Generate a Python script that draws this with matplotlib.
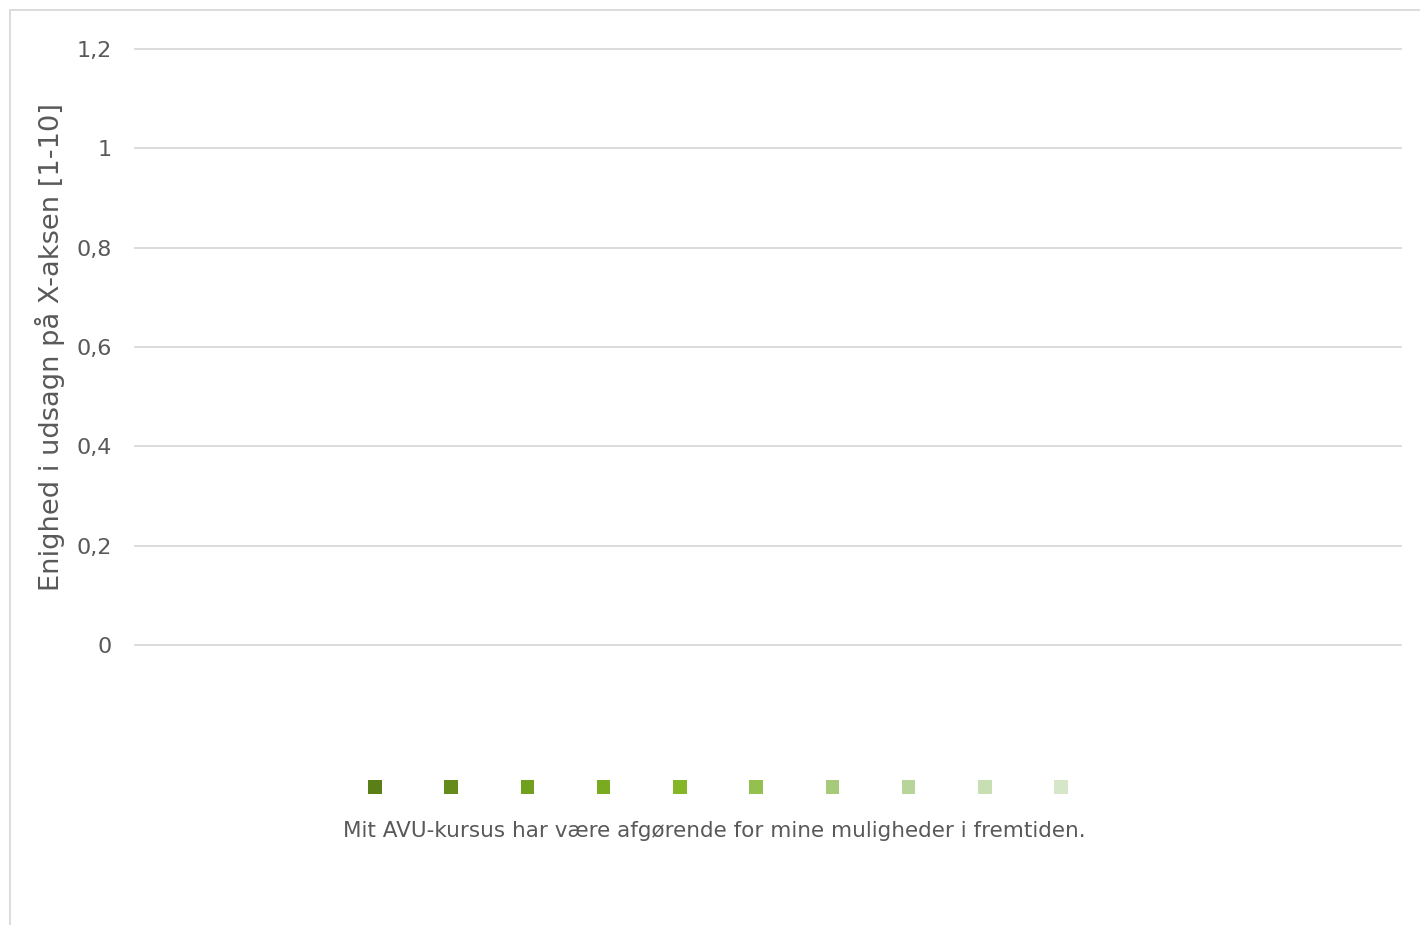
import matplotlib
matplotlib.use('Agg')
import matplotlib.pyplot as plt
from matplotlib.patches import Rectangle, Patch

# data: one statement, ten rating series (1-10), no values recorded
categories = ['Mit AVU-kursus har være afgørende for mine muligheder i fremtiden.']
series_names = ['', '', '', '', '', '', '', '', '', '']
series_values = [[0], [0], [0], [0], [0], [0], [0], [0], [0], [0]]
colors = ['#5a7f16', '#648b1b', '#71a01f', '#7aaa20', '#84b626',
          '#93c04e', '#a7ca7a', '#b7d59a', '#c7dfb3', '#d6e6c8']
yticks = [0, 0.2, 0.4, 0.6, 0.8, 1.0, 1.2]
ytick_labels = ['0', '0,2', '0,4', '0,6', '0,8', '1', '1,2']

txt = '#595959'
grid = '#d9d9d9'

fig = plt.figure(figsize=(14.2, 9.25), dpi=100)
fig.patches.append(Rectangle((9.5 / 1420, -0.1), 1.2, 1 - 9.5 / 925 + 0.1,
                             transform=fig.transFigure, fill=False,
                             edgecolor=grid, linewidth=1.3))

ax = fig.add_axes([135 / 1420, 1 - 645 / 925, (1401 - 135) / 1420, (645 - 49) / 925])

n = len(series_values)
w = 0.8 / n
handles = []
for i, vals in enumerate(series_values):
    xs = [j - 0.4 + w * (i + 0.5) for j in range(len(categories))]
    ax.bar(xs, vals, width=w, color=colors[i])
    handles.append(Patch(facecolor=colors[i], edgecolor='none'))

ax.set_xlim(-0.5, len(categories) - 0.5)
ax.set_ylim(0, 1.2)
ax.set_yticks(yticks)
ax.set_yticklabels(ytick_labels, fontsize=16, color=txt)
ax.yaxis.grid(True, color=grid, linewidth=1.3)
for gl in ax.get_ygridlines():
    gl.set_clip_on(False)
ax.set_axisbelow(True)
ax.tick_params(axis='y', length=0, pad=17)
ax.set_xticks([])
for s in ax.spines.values():
    s.set_visible(False)

ax.set_ylabel('Enighed i udsagn på X-aksen [1-10]', fontsize=19.6, color=txt, labelpad=8)

for j, c in enumerate(categories):
    fig.text(714 / 1420, 1 - 831 / 925, c, ha='center', va='center', fontsize=15.5, color=txt)

fig.legend(handles, series_names, loc='center', bbox_to_anchor=(718 / 1420, 1 - 788 / 925),
           ncol=10, frameon=False, fontsize=14, handlelength=0.7, handleheight=0.7,
           handletextpad=0, columnspacing=3.22)

fig.savefig('out.png', dpi=100)
